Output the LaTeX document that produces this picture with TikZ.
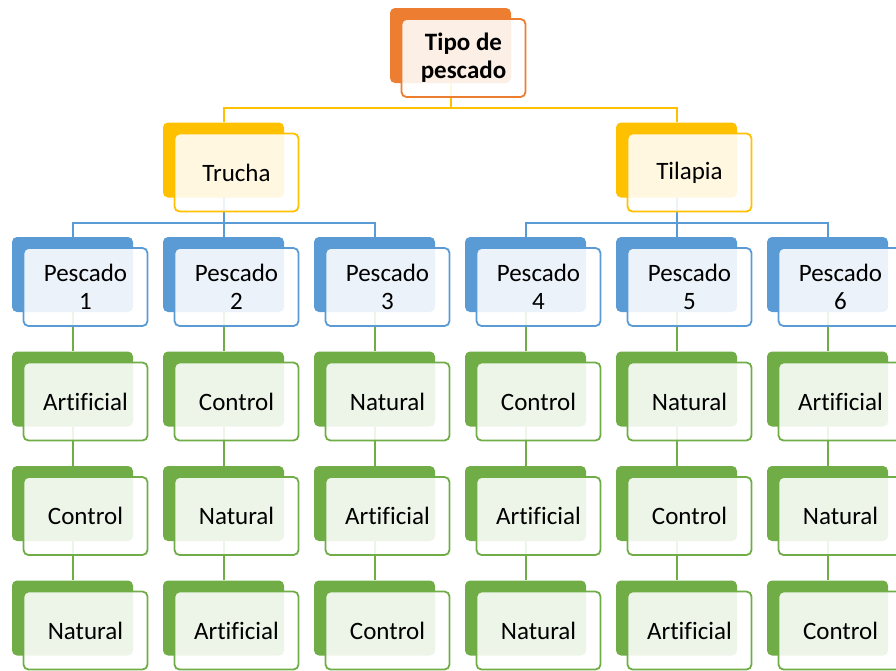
\documentclass[tikz,border=0pt]{standalone}
\usepackage{fontspec}
\setmainfont[Ligatures=NoCommon]{Carlito}
\usetikzlibrary{backgrounds}
\definecolor{corange}{HTML}{ED7D31}
\definecolor{cgold}{HTML}{FFC000}
\definecolor{cblue}{HTML}{5B9BD5}
\definecolor{cgreen}{HTML}{70AD47}
\tikzset{
  backbox/.style={rectangle, rounded corners=5pt, minimum width=121pt, minimum height=75pt, inner sep=0pt, draw=none},
  frontbox/.style={rectangle, rounded corners=5pt, minimum width=124pt, minimum height=78pt, inner sep=0pt, fill=white, fill opacity=0.88, text opacity=1, line width=1.8pt, align=center, font=\fontsize{25}{28}\selectfont, text=black},
  conn/.style={line width=2pt}
}
\newcommand\smartbox[5]{%
  \node[backbox, fill=#4] (#1b) at (#2+60.5, #3+37.5) {};
  \node[frontbox, draw=#4] (#1) at (#2+73.5, #3+50) {#5};
}
\begin{document}
\begin{tikzpicture}[x=1pt,y=-1pt]
\useasboundingbox (0,0) rectangle (896,670);
\clip (0,0) rectangle (896,670);
\smartbox{top}{390}{8}{corange}{\textbf{Tipo de}\\\textbf{pescado}}
\smartbox{tru}{163}{122.5}{cgold}{Trucha}
\smartbox{til}{616}{122.5}{cgold}{Tilapia}
\foreach \i/\a/\b/\c in {1/Artificial/Control/Natural, 2/Control/Natural/Artificial, 3/Natural/Artificial/Control, 4/Control/Artificial/Natural, 5/Natural/Control/Artificial, 6/Artificial/Natural/Control}{
  \pgfmathsetmacro\xx{12+151*(\i-1)}
  \smartbox{p\i}{\xx}{237}{cblue}{Pescado\\\i}
  \smartbox{ra\i}{\xx}{351.5}{cgreen}{\a}
  \smartbox{rb\i}{\xx}{466}{cgreen}{\b}
  \smartbox{rc\i}{\xx}{580.5}{cgreen}{\c}
}
\begin{scope}[on background layer]
  \foreach \t in {tru,til}
    \draw[conn, cgold] (topb.south) |- ([yshift=14pt]\t b.north) -- (\t b.north);
  \foreach \i in {1,2,3}
    \draw[conn, cblue] (trub.south) |- ([yshift=14pt]p\i b.north) -- (p\i b.north);
  \foreach \i in {4,5,6}
    \draw[conn, cblue] (tilb.south) |- ([yshift=14pt]p\i b.north) -- (p\i b.north);
  \foreach \i in {1,...,6}{
    \draw[conn, cgreen] (p\i b.south) -- (ra\i b.north);
    \draw[conn, cgreen] (ra\i b.south) -- (rb\i b.north);
    \draw[conn, cgreen] (rb\i b.south) -- (rc\i b.north);
  }
\end{scope}
\end{tikzpicture}
\end{document}
